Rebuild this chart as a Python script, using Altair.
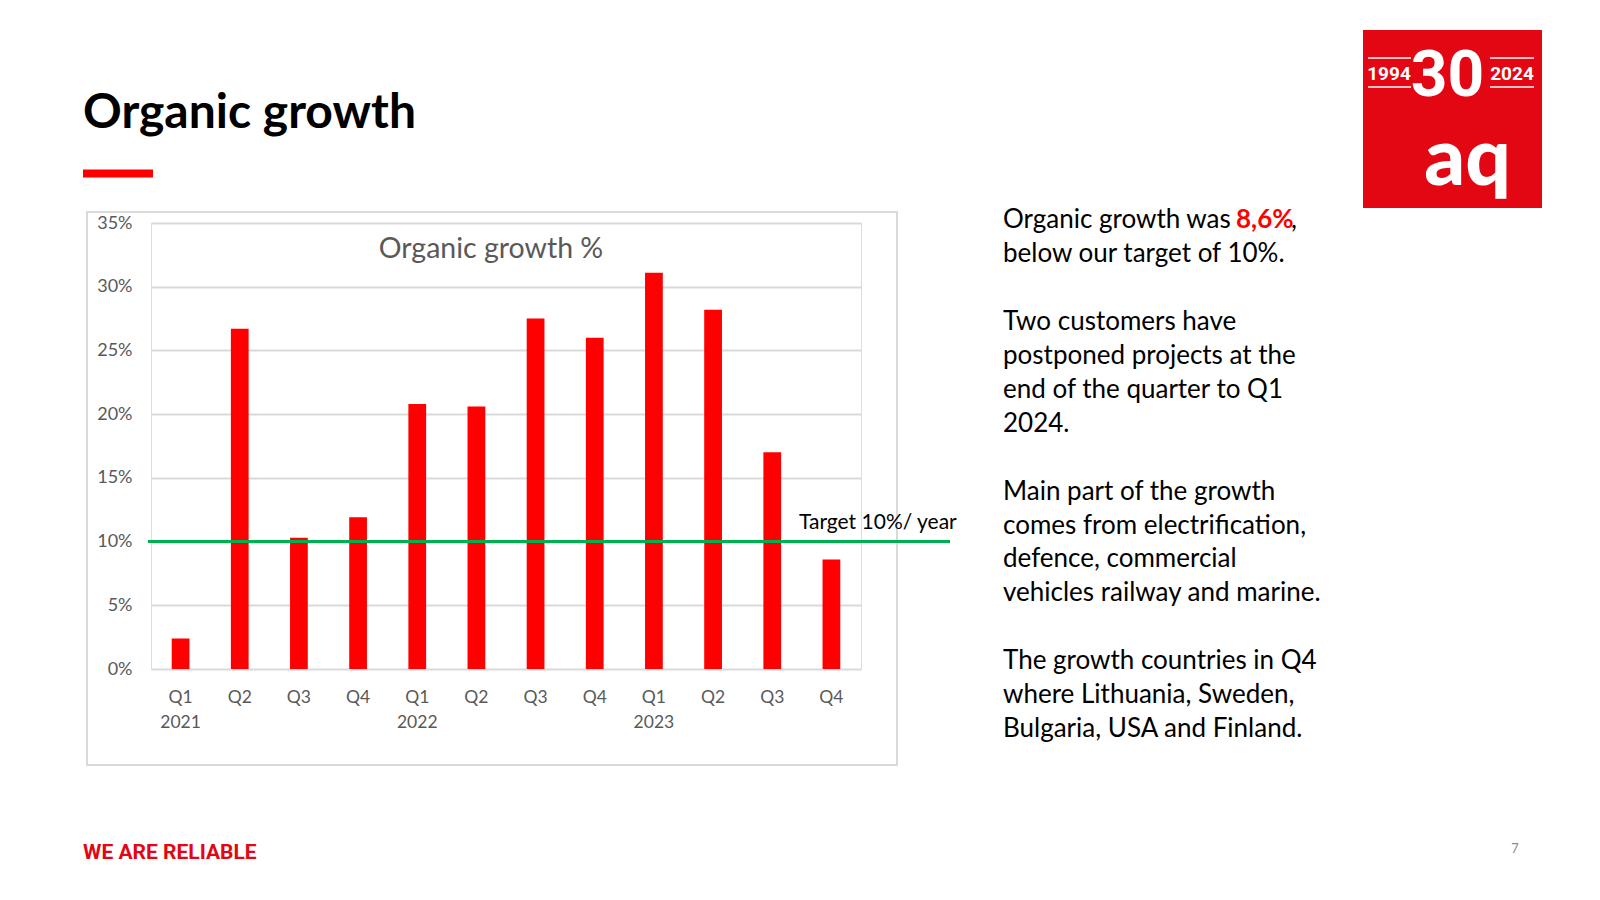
import altair as alt
import pandas as pd

# ---- data ----
quarters = ["Q1", "Q2", "Q3", "Q4", "Q1", "Q2", "Q3", "Q4", "Q1", "Q2", "Q3", "Q4"]
years = ["2021", "2021", "2021", "2021", "2022", "2022", "2022", "2022", "2023", "2023", "2023", "2023"]
growth = [2.4, 26.7, 10.3, 11.9, 20.8, 20.6, 27.5, 26.0, 31.1, 28.2, 17.0, 8.6]
y_ticks = [0, 5, 10, 15, 20, 25, 30, 35]
target = 10

slide_title = "Organic growth"
chart_title = "Organic growth %"
target_label = "Target 10%/ year"
text_first = "Organic growth was "
text_highlight = "8,6%"
paragraphs = [
    ["below our target of 10%."],
    ["Two customers have",
     "postponed projects at the",
     "end of the quarter to Q1",
     "2024."],
    ["Main part of the growth",
     "comes from electrification,",
     "defence, commercial",
     "vehicles railway and marine."],
    ["The growth countries in Q4",
     "where Lithuania, Sweden,",
     "Bulgaria, USA and Finland."],
]
paragraph_start_line = [1, 3, 8, 13]
footer = "WE ARE RELIABLE"
page_no = "7"

keys = [f"{q} {y}" for q, y in zip(quarters, years)]
df = pd.DataFrame({"key": keys, "growth": growth})
one = pd.DataFrame({"a": [0]})

FONT = "Lato"
COND = "Roboto"
GRAY = "#595959"
LOGO_RED = "#E30613"
LINE_H = 33.95
TEXT_X = 852
TEXT_Y0 = 5

label_expr = ("slice(datum.value,0,2) == 'Q1' "
              "? [slice(datum.value,0,2), slice(datum.value,3)] : slice(datum.value,0,2)")

bars = alt.Chart(df).mark_bar(color="#FF0000").encode(
    x=alt.X("key:N", sort=keys, title=None,
            scale=alt.Scale(paddingInner=0.7, paddingOuter=0.35),
            axis=alt.Axis(labelExpr=label_expr, labelAngle=0, labelPadding=19,
                          labelLineHeight=25, labelFontSize=17.5, labelColor=GRAY,
                          labelFont=FONT, domain=False, ticks=False, grid=False)),
    y=alt.Y("growth:Q", title=None,
            scale=alt.Scale(domain=[0, 35], nice=False),
            axis=alt.Axis(values=y_ticks, labelExpr="datum.value + '%'", domain=False,
                          ticks=False, grid=True, gridColor="#d9d9d9", gridWidth=2,
                          labelFontSize=18, labelColor=GRAY, labelFont=FONT,
                          labelPadding=19)),
)

target_rule = alt.Chart(one).mark_rule(color="#00B050", strokeWidth=3).encode(
    y=alt.datum(target), x=alt.value(-3), x2=alt.value(799))

target_text = alt.Chart(one).mark_text(
    text=target_label, font=FONT, fontSize=21, color="black", align="left",
    baseline="middle").encode(x=alt.value(648), y=alt.value(300))

box = alt.Chart(one).mark_rect(fill=None, stroke="#d9d9d9", strokeWidth=2).encode(
    x=alt.value(-64), x2=alt.value(746), y=alt.value(-11), y2=alt.value(542))

ctitle = alt.Chart(one).mark_text(
    text=chart_title, font=FONT, fontSize=28.5, color=GRAY, align="center",
    baseline="middle").encode(x=alt.value(340), y=alt.value(26))

title = alt.Chart(one).mark_text(
    text=slide_title, font=FONT, fontSize=48, fontWeight="bold", color="black",
    align="left", baseline="alphabetic").encode(x=alt.value(-68), y=alt.value(-95))

underline = alt.Chart(one).mark_rect(color="#FF0000").encode(
    x=alt.value(-68), x2=alt.value(2), y=alt.value(-53.5), y2=alt.value(-45.5))

t_first = alt.Chart(one).mark_text(
    text=text_first, font=FONT, fontSize=26, color="black", align="left",
    baseline="alphabetic").encode(x=alt.value(TEXT_X), y=alt.value(TEXT_Y0))
t_high = alt.Chart(one).mark_text(
    text=text_highlight, font=FONT, fontSize=26, fontWeight="bold", color="#FF0000",
    align="left", baseline="alphabetic").encode(x=alt.value(1085), y=alt.value(TEXT_Y0))
t_comma = alt.Chart(one).mark_text(
    text=",", font=FONT, fontSize=26, color="black", align="left",
    baseline="alphabetic").encode(x=alt.value(1140), y=alt.value(TEXT_Y0))
t_blocks = [
    alt.Chart(one).mark_text(
        text=lines, font=FONT, fontSize=26, color="black", align="left",
        baseline="alphabetic", lineHeight=LINE_H).encode(
        x=alt.value(TEXT_X), y=alt.value(TEXT_Y0 + start * LINE_H))
    for lines, start in zip(paragraphs, paragraph_start_line)
]

logo_box = alt.Chart(one).mark_rect(color=LOGO_RED).encode(
    x=alt.value(1212), x2=alt.value(1391), y=alt.value(-193), y2=alt.value(-15))
logo_30 = alt.Chart(one).mark_text(
    text="30", font=COND, fontSize=64, fontWeight="bold", color="white",
    align="center", baseline="alphabetic").encode(x=alt.value(1296.5), y=alt.value(-127))
logo_1994 = alt.Chart(one).mark_text(
    text="1994", font=COND, fontSize=19, fontWeight="bold", color="white",
    align="center", baseline="alphabetic").encode(x=alt.value(1238), y=alt.value(-143))
logo_2024 = alt.Chart(one).mark_text(
    text="2024", font=COND, fontSize=19, fontWeight="bold", color="white",
    align="center", baseline="alphabetic").encode(x=alt.value(1361), y=alt.value(-143))
logo_lines = [
    alt.Chart(one).mark_rule(color="white", strokeWidth=1.5).encode(
        x=alt.value(x1), x2=alt.value(x2), y=alt.value(yy))
    for (x1, x2) in [(1217, 1260), (1339, 1383)] for yy in [-165, -136]
]
logo_aq = alt.Chart(one).mark_text(
    text="aq", font=FONT, fontSize=80, fontWeight=900, color="white",
    align="center", baseline="alphabetic").encode(x=alt.value(1316.5), y=alt.value(-38))

foot = alt.Chart(one).mark_text(
    text=footer, font=COND, fontSize=21, fontWeight="bold", color=LOGO_RED,
    align="left", baseline="alphabetic").encode(x=alt.value(-68), y=alt.value(636))
pnum = alt.Chart(one).mark_text(
    text=page_no, font=FONT, fontSize=13, color="#8c8c8c", align="center",
    baseline="middle").encode(x=alt.value(1364), y=alt.value(626))

chart = alt.layer(
    box, bars, target_rule, target_text, ctitle, title, underline,
    t_first, t_high, t_comma, *t_blocks,
    logo_box, logo_30, logo_1994, logo_2024, *logo_lines, logo_aq,
    foot, pnum,
).properties(
    width=710, height=446,
    padding={"left": 143, "top": 215, "right": 727, "bottom": 219},
    autosize="none",
).configure_view(stroke=None).configure(font=FONT, background="white")

chart.save("out.html", embed_options={"renderer": "svg", "actions": False})
